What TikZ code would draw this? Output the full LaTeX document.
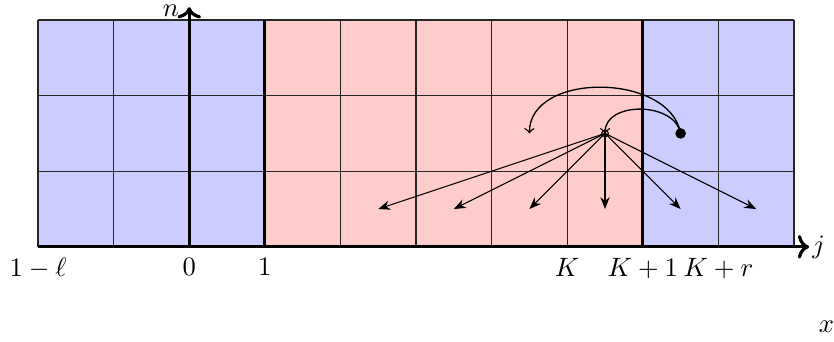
\documentclass[tikz,border=0pt]{standalone}
\usetikzlibrary{arrows.meta}
\begin{document}
\begin{tikzpicture}[x=1cm,y=1cm,
  gridline/.style={line width=0.4pt,black!85},
  axisline/.style={line width=1.2pt,black},
  tickbar/.style={line width=1.2pt,black},
  jump/.style={-{Stealth[length=4.5pt,width=3.5pt]},line width=0.4pt},
  hop/.style={-to,line width=0.5pt},
  lbl/.style={inner sep=1pt}]
\useasboundingbox (-0.503,-1.246) rectangle (10.529,3.265);
% fills
\fill[blue!20] (0,0) rectangle (3,3);
\fill[red!20] (3,0) rectangle (8,3);
\fill[blue!20] (8,0) rectangle (10,3);
% grid
\foreach \x in {0,...,10} \draw[gridline] (\x,0) -- (\x,3);
\foreach \y in {1,2,3} \draw[gridline] (0,\y) -- (10,\y);
% thick verticals
\draw[tickbar] (3,0) -- (3,3);
\draw[tickbar] (8,0) -- (8,3);
% axes
\coordinate (jtip) at (10.2,0);
\coordinate (ntip) at (2,3.17);
\draw[axisline,->] (0,0) -- (jtip);
\draw[axisline,->] (2,0) -- (ntip);
\node[anchor=west,lbl] (jl) at (jtip) {$j$};
\node[anchor=base east,inner sep=0pt] (nl) at (1.87,3.05) {$n$};
\node (xl) at (10.43,-1.06) {$x$};
% tick labels
\node[anchor=north] (l1) at (0,-0.03) {$1-\ell$};
\node[anchor=north] (l2) at (2,-0.03) {$0$};
\node[anchor=north] (l3) at (3,-0.03) {$1$};
\node[anchor=north] (l4) at (7,-0.03) {$K$};
\node[anchor=north] (l5) at (8,-0.03) {$K+1$};
\node[anchor=north] (l6) at (9,-0.03) {$K+r$};
% points
\node[circle,draw,fill=red!30,inner sep=0pt,minimum size=2.5pt,line width=0.4pt] (src) at (7.5,1.5) {};
\node[circle,fill=black,inner sep=0pt,minimum size=4pt] (dot) at (8.5,1.5) {};
\foreach \i/\x in {a/4.5,b/5.5,c/6.5,d/7.5,e/8.5,f/9.5}{
  \coordinate (t\i) at (\x,0.5);
  \draw[jump] (src.center) -- (t\i);
}
\coordinate (tg) at (6.5,1.5);
\draw[hop] (dot.center) to[out=100,in=90,looseness=1.05] (tg);
\draw[hop] (dot.center) to[out=100,in=90,looseness=1.1] (src.center);
\end{tikzpicture}
\end{document}
